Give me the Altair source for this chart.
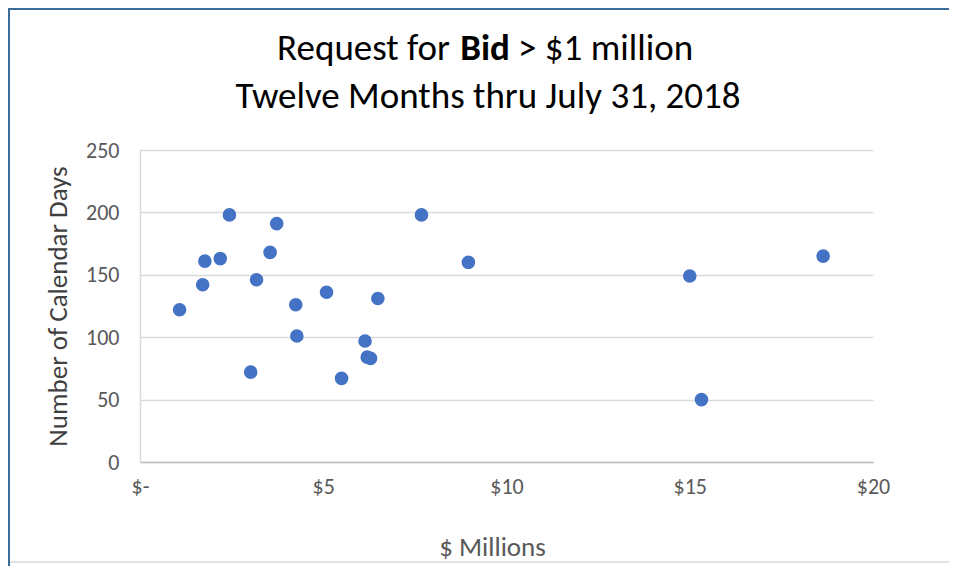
import altair as alt
import pandas as pd

# ---- data ----
millions = [1.08, 1.71, 1.77, 2.19, 2.44, 3.02, 3.18, 3.55, 3.73, 4.25, 4.28,
            5.09, 5.50, 6.14, 6.20, 6.29, 6.49, 7.68, 8.96, 15.00, 15.32, 18.64]
days = [122, 142, 161, 163, 198, 72, 146, 168, 191, 126, 101,
        136, 67, 97, 84, 83, 131, 198, 160, 149, 50, 165]

x_ticks = [0, 5, 10, 15, 20]
y_ticks = [0, 50, 100, 150, 200, 250]

title_part1 = "Request for"
title_bold = "Bid"
title_part3 = "> $1 million"
title_line2 = "Twelve Months thru July 31, 2018"
x_title = "$ Millions"
y_title = "Number of Calendar Days"

FONT = "Carlito, Lato, sans-serif"
TXT = "#000000"
AX = "#595959"

df = pd.DataFrame({"m": millions, "d": days})

W, H = 733, 312

points = alt.Chart(df).mark_circle(size=185, color="#4472C4", opacity=1).encode(
    x=alt.X("m:Q", scale=alt.Scale(domain=[0, 20], nice=False),
            axis=alt.Axis(values=x_ticks, title=x_title, labelFlush=False,
                          labelExpr="datum.value == 0 ? '$-' : '$' + datum.label",
                          titleX=352, titlePadding=37, labelPadding=14,
                          titleFontSize=27)),
    y=alt.Y("d:Q", scale=alt.Scale(domain=[0, 250], nice=False),
            axis=alt.Axis(values=y_ticks, title=y_title, titlePadding=13,
                          labelPadding=21, titleFontSize=27, titleColor="#404040")),
)

def txt(s, x, y, align, weight="normal", size=37):
    return alt.Chart(pd.DataFrame({"t": [s]})).mark_text(
        font=FONT, fontSize=size, fontWeight=weight, align=align,
        baseline="alphabetic", color=TXT
    ).encode(x=alt.value(x), y=alt.value(y), text="t:N")

t1 = txt(title_part1, 310, -90, "right")
t2 = txt(title_bold, 345, -90, "center", weight="bold")
t3 = txt(title_part3, 378, -90, "left")
t4 = txt(title_line2, 348, -42, "center")

one = pd.DataFrame({"k": [0]})
frame = alt.Chart(one).mark_rect(fill=None, fillOpacity=0, stroke="#3A6D97", strokeWidth=2).encode(
    x=alt.value(-131), x2=alt.value(840), y=alt.value(-141), y2=alt.value(460))
border_bottom = alt.Chart(one).mark_rule(color="#D9D9D9", strokeWidth=1.5).encode(
    x=alt.value(-130), x2=alt.value(840), y=alt.value(412))

chart = alt.layer(points, t1, t2, t3, t4, frame, border_bottom).properties(
    width=W, height=H,
    autosize=alt.AutoSizeParams(type="none"),
    padding={"left": 132, "top": 142, "right": 76, "bottom": 104},
).configure_view(stroke=None).configure_axis(
    labelFont=FONT, titleFont=FONT, labelColor=AX, titleColor=AX,
    labelFontSize=22, titleFontWeight="normal",
    gridColor="#D9D9D9", gridWidth=1.5, ticks=False,
    domainWidth=1.5,
).configure_axisX(domainColor="#BFBFBF", grid=False).configure_axisY(
    domainColor="#D9D9D9", domain=True
)

chart.save("out.html", embed_options={"renderer": "svg", "actions": False})
